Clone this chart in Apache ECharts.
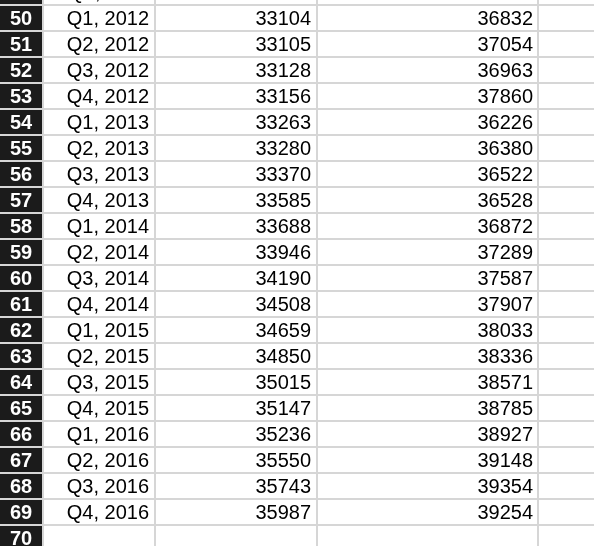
<!DOCTYPE html>
<html><head><meta charset="utf-8">
<script src="https://cdn.jsdelivr.net/npm/echarts@6/dist/echarts.min.js"></script>
<style>html,body{margin:0;padding:0;background:#fff}#c{width:594px;height:546px}</style>
</head><body><div id="c"></div>
<script>
const rowNums = [49,50,51,52,53,54,55,56,57,58,59,60,61,62,63,64,65,66,67,68,69,70];
const quarters = ["Q4, 2011","Q1, 2012","Q2, 2012","Q3, 2012","Q4, 2012","Q1, 2013","Q2, 2013","Q3, 2013","Q4, 2013","Q1, 2014","Q2, 2014","Q3, 2014","Q4, 2014","Q1, 2015","Q2, 2015","Q3, 2015","Q4, 2015","Q1, 2016","Q2, 2016","Q3, 2016","Q4, 2016",""];
const colB = [33090,33104,33105,33128,33156,33263,33280,33370,33585,33688,33946,34190,34508,34659,34850,35015,35147,35236,35550,35743,35987,null];
const colC = [36700,36832,37054,36963,37860,36226,36380,36522,36528,36872,37289,37587,37907,38033,38336,38571,38785,38927,39148,39354,39254,null];
const colEdges = [0,43,155,317,538,594];

const chart = echarts.init(document.getElementById('c'));
const font = '20px "Liberation Sans", Arial, sans-serif';
chart.setOption({
  animation:false,
  grid:{left:0,right:0,top:0,bottom:0},
  xAxis:{type:'value',min:0,max:594,show:false},
  yAxis:{type:'value',min:0.3077,max:21.3077,inverse:true,show:false},
  series:[{
    type:'custom',
    clip:true,
    data:rowNums.map((r,i)=>[i]),
    encode:{y:0},
    renderItem:function(params,api){
      const i=api.value(0);
      const cy=api.coord([0,i])[1];
      const h=Math.abs(api.coord([0,i+1])[1]-cy);
      const top=cy-h/2;
      const x=v=>api.coord([v,i])[0];
      const ch=[];
      ch.push({type:'rect',shape:{x:x(colEdges[0]),y:top,width:x(colEdges[1])-x(colEdges[0]),height:h},style:{fill:'#1b1b1b'}});
      for(let k=1;k<colEdges.length-1;k++){
        ch.push({type:'rect',shape:{x:x(colEdges[k])-1,y:top,width:2,height:h},style:{fill:'#d6d6d6'}});
      }
      ch.push({type:'rect',shape:{x:0,y:top-1,width:594,height:2},style:{fill:'#d6d6d6'}});
      ch.push({type:'text',style:{text:String(rowNums[i]),x:x(21),y:cy+1,align:'center',verticalAlign:'middle',font:'bold '+font,fill:'#fff'}});
      ch.push({type:'text',style:{text:quarters[i],x:x(149),y:cy+1,align:'right',verticalAlign:'middle',font:font,fill:'#000'}});
      if(colB[i]!=null) ch.push({type:'text',style:{text:String(colB[i]),x:x(311),y:cy+1,align:'right',verticalAlign:'middle',font:font,fill:'#000'}});
      if(colC[i]!=null) ch.push({type:'text',style:{text:String(colC[i]),x:x(533),y:cy+1,align:'right',verticalAlign:'middle',font:font,fill:'#000'}});
      return {type:'group',children:ch};
    }
  }]
});
</script></body></html>
